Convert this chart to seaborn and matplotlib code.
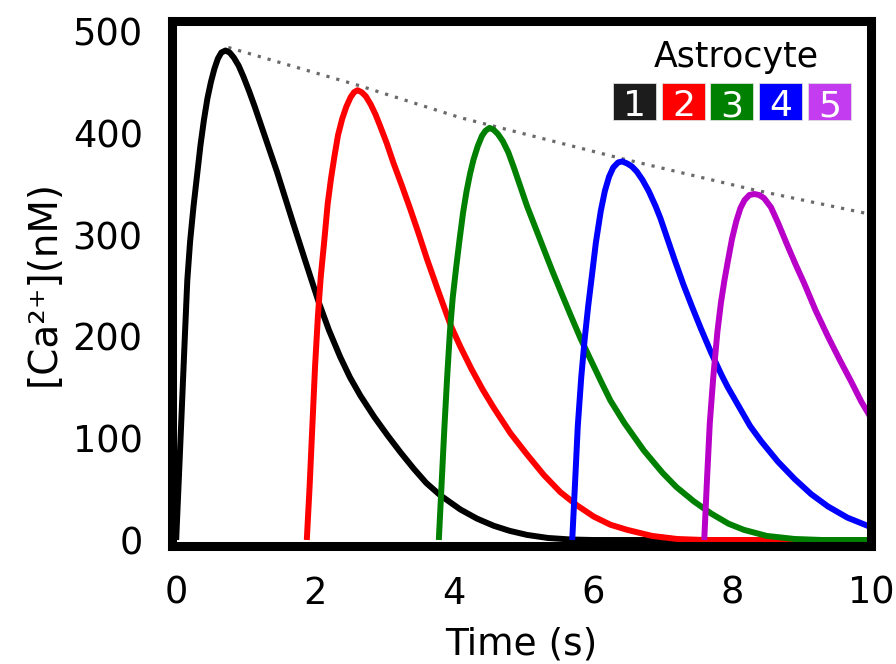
import matplotlib
matplotlib.use("Agg")
import matplotlib.pyplot as plt
from matplotlib.patches import Rectangle
import pandas as pd
import seaborn as sns

# ---- data ----
t1 = [0.0, 0.04, 0.08, 0.12, 0.16, 0.20, 0.25, 0.30, 0.35, 0.40, 0.45, 0.50, 0.55, 0.60, 0.65, 0.71,
      0.77, 0.83, 0.90, 0.97, 1.05, 1.13, 1.21, 1.33, 1.45, 1.57, 1.69, 1.85, 2.05, 2.20, 2.36, 2.50,
      2.65, 2.85, 3.04, 3.23, 3.42, 3.60, 3.80, 4.09, 4.33, 4.57, 4.80, 5.05, 5.35, 5.68, 6.00, 10.0]
v1 = [0, 63, 127, 192, 255, 293, 328, 358, 388, 413, 434, 450, 463, 473, 479, 481,
      479, 474, 466, 455, 441, 426, 410, 386, 362, 336, 310, 276, 234, 206, 180, 160,
      142, 121, 103, 86, 70, 56, 44, 30, 21, 14, 9, 5, 2, 0.5, 0, 0]

t2 = [1.88, 1.92, 1.96, 2.00, 2.04, 2.08, 2.13, 2.18, 2.23, 2.28, 2.33, 2.39, 2.45, 2.51, 2.56, 2.61,
      2.67, 2.73, 2.80, 2.87, 2.94, 3.03, 3.13, 3.25, 3.37, 3.49, 3.61, 3.77, 3.95, 4.09, 4.25, 4.41,
      4.57, 4.81, 5.05, 5.29, 5.53, 5.77, 6.01, 6.25, 6.49, 6.85, 7.21, 7.60, 10.0]
v2 = [0, 52, 112, 172, 220, 258, 293, 330, 356, 378, 398, 414, 426, 435, 440, 442,
      440, 436, 428, 418, 406, 390, 370, 348, 325, 301, 276, 245, 211, 190, 168, 148,
      130, 105, 84, 64, 47, 34, 23, 15, 10, 4, 1, 0, 0]

t3 = [3.78, 3.82, 3.86, 3.90, 3.94, 3.98, 4.03, 4.08, 4.13, 4.18, 4.23, 4.28, 4.34, 4.40, 4.45, 4.51,
      4.57, 4.63, 4.70, 4.78, 4.86, 4.95, 5.05, 5.17, 5.29, 5.41, 5.53, 5.67, 5.82, 5.98, 6.12, 6.25,
      6.45, 6.73, 7.00, 7.20, 7.45, 7.70, 7.95, 8.17, 8.50, 8.90, 9.30, 10.0]
v3 = [0, 55, 110, 160, 205, 238, 268, 296, 322, 343, 360, 374, 387, 397, 402, 405,
      403, 399, 392, 381, 366, 348, 328, 307, 286, 265, 245, 222, 198, 175, 155, 137,
      115, 88, 66, 52, 38, 26, 16, 10, 4, 1, 0, 0]

t4 = [5.70, 5.74, 5.78, 5.83, 5.88, 5.93, 5.98, 6.04, 6.11, 6.17, 6.23, 6.29, 6.36, 6.42, 6.49, 6.56,
      6.63, 6.71, 6.80, 6.90, 6.97, 7.07, 7.17, 7.30, 7.42, 7.55, 7.70, 7.85, 7.94, 8.10, 8.26, 8.42,
      8.66, 8.90, 9.14, 9.38, 9.66, 9.95, 10.0]
v4 = [0, 55, 112, 160, 198, 230, 258, 292, 323, 343, 357, 366, 371, 372, 370, 367,
      362, 354, 343, 328, 316, 296, 276, 251, 230, 208, 184, 162, 150, 131, 112, 97,
      77, 60, 45, 33, 22, 14, 13]

t5 = [7.60, 7.64, 7.68, 7.73, 7.79, 7.84, 7.89, 7.94, 8.00, 8.06, 8.12, 8.18, 8.25, 8.32, 8.39, 8.46,
      8.56, 8.66, 8.80, 8.92, 9.04, 9.20, 9.38, 9.55, 9.72, 9.86, 10.0]
v5 = [0, 60, 115, 160, 205, 233, 255, 274, 296, 313, 326, 334, 339, 340, 339, 336,
      327, 312, 289, 270, 252, 226, 200, 177, 155, 136, 120]

t_env = [0.75, 2.61, 4.09, 6.40, 8.32, 10.0]
v_env = [484, 447, 415, 375, 344, 320]

cells = ["1", "2", "3", "4", "5"]
curve_colors = ["#000000", "#ff0000", "#008000", "#0000ff", "#b800c8"]
box_colors = ["#1c1c1c", "#ff0000", "#008000", "#0000ff", "#c43cf0"]
x_ticks = [0, 2, 4, 6, 8, 10]
y_ticks = [0, 100, 200, 300, 400, 500]

# ---- build long table ----
frames = []
for c, tt, vv in zip(cells, [t1, t2, t3, t4, t5], [v1, v2, v3, v4, v5]):
    frames.append(pd.DataFrame({"t": tt, "v": vv, "cell": c}))
df = pd.concat(frames, ignore_index=True)
env = pd.DataFrame({"t": t_env, "v": v_env})

sns.set_theme(style="white")
plt.rcParams["font.family"] = ["DejaVu Sans"]

W, H = 896, 664
fig = plt.figure(figsize=(W / 100, H / 100), dpi=100)
L, R, T, B = 172, 871, 21, 545.5
ax = fig.add_axes([L / W, 1 - B / H, (R - L) / W, (B - T) / H])

sns.lineplot(data=env, x="t", y="v", ax=ax, color="#6a6a6a", linewidth=2.3,
             linestyle=(0, (1, 2.2)), estimator=None, sort=False, legend=False)
sns.lineplot(data=df, x="t", y="v", hue="cell", palette=dict(zip(cells, curve_colors)),
             ax=ax, linewidth=4.3, estimator=None, sort=False, legend=False)
for ln in ax.lines[1:]:
    ln.set_solid_joinstyle("round")
    ln.set_solid_capstyle("butt")

ax.set_xlim(-0.06, 10.0)
ax.set_ylim(-5.4, 510)
ax.set_xticks(x_ticks)
ax.set_yticks(y_ticks)
ax.tick_params(axis="both", length=0, pad=21, labelsize=26.5, colors="black")
for s in ax.spines.values():
    s.set_visible(True)
    s.set_linewidth(6.5)
    s.set_color("black")
ax.grid(False)
ax.set_facecolor("white")

ax.set_xlabel("Time (s)", fontsize=27, labelpad=11, color="black")
ax.set_ylabel("[Ca\u00b2\u207a](nM)", fontsize=28, labelpad=7, color="black")

# ---- custom legend ----
def fx(px):
    return px / W

def fy(py):
    return 1 - py / H

fig.text(fx(736.5), fy(67), "Astrocyte", ha="center", va="baseline", fontsize=25, color="black")
box_left = [613, 662, 710, 759, 808]
for c, col, x0 in zip(cells, box_colors, box_left):
    fig.patches.append(Rectangle((fx(x0), fy(120)), 43 / W, 37 / H, transform=fig.transFigure,
                                 facecolor=col, edgecolor="#dddddd", linewidth=0.6, zorder=5))
    fig.text(fx(x0 + 21.5), fy(116.5), c, ha="center", va="baseline", fontsize=26,
             color="white", zorder=6)

fig.savefig("out.png", dpi=100, facecolor="white")
